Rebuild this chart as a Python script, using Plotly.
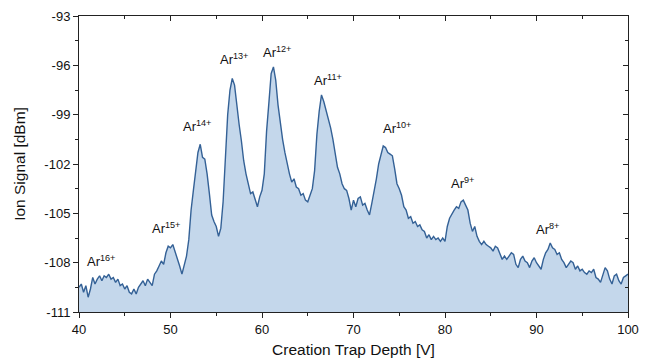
import numpy as np
import plotly.graph_objects as go

# Creation trap depth grid (V)
x_start, x_stop, x_step = 40.0, 100.0, 0.25
depth = np.round(np.arange(x_start, x_stop + x_step / 2, x_step), 2)

# Ion signal (dBm), 4 samples per volt
signal = [
    -109.5, -109.3, -109.8, -109.4,   # 40
    -110.1, -109.6, -108.9, -109.3,   # 41
    -109.0, -108.8, -109.1, -108.8,   # 42
    -108.9, -108.7, -109.0, -108.9,   # 43
    -109.2, -109.0, -109.4, -109.3,   # 44
    -109.6, -109.4, -109.8, -109.9,   # 45
    -109.6, -109.9, -109.5, -109.3,   # 46
    -109.1, -109.4, -109.0, -109.2,   # 47
    -109.4, -108.7, -108.5, -108.2,   # 48
    -107.9, -108.1, -107.4, -107.0,   # 49
    -107.1, -106.9, -107.3, -107.7,   # 50
    -108.2, -108.7, -108.2, -107.6,   # 51
    -106.6, -104.8, -103.6, -102.5,   # 52
    -101.3, -100.8, -101.6, -101.7,   # 53
    -102.6, -103.8, -105.1, -105.5,   # 54
    -105.8, -106.4, -105.9, -104.3,   # 55
    -101.8, -99.0, -97.5, -96.8,      # 56
    -97.2, -98.6, -99.6, -100.6,      # 57
    -101.8, -102.6, -103.3, -103.8,   # 58
    -103.7, -104.2, -104.6, -104.0,   # 59
    -103.6, -102.6, -100.0, -98.3,    # 60
    -96.5, -96.1, -96.9, -98.4,       # 61
    -99.5, -100.5, -101.3, -102.0,    # 62
    -102.6, -103.1, -102.9, -103.4,   # 63
    -103.5, -103.9, -103.8, -104.2,   # 64
    -104.3, -103.9, -103.5, -102.4,   # 65
    -100.2, -98.8, -97.8, -98.2,      # 66
    -98.7, -99.3, -99.8, -100.5,      # 67
    -101.4, -102.2, -102.6, -103.2,   # 68
    -103.5, -103.6, -104.1, -104.8,   # 69
    -104.2, -104.6, -104.1, -104.0,   # 70
    -104.5, -104.4, -104.8, -105.1,   # 71
    -104.4, -103.7, -102.9, -102.0,   # 72
    -101.4, -100.9, -101.0, -101.3,   # 73
    -101.4, -101.5, -102.3, -103.2,   # 74
    -103.5, -103.9, -104.6, -104.8,   # 75
    -105.3, -105.2, -105.6, -105.5,   # 76
    -105.8, -105.7, -106.0, -106.1,   # 77
    -106.5, -106.3, -106.6, -106.4,   # 78
    -106.6, -106.5, -106.7, -106.5,   # 79
    -106.7, -105.8, -105.3, -105.0,   # 80
    -104.8, -104.6, -104.7, -104.3,   # 81
    -104.2, -104.5, -104.8, -105.6,   # 82
    -106.1, -105.8, -106.4, -106.7,   # 83
    -106.9, -106.7, -106.9, -107.0,   # 84
    -107.1, -107.3, -107.0, -107.1,   # 85
    -107.5, -107.8, -107.6, -107.8,   # 86
    -107.6, -107.4, -107.5, -108.1,   # 87
    -108.3, -107.8, -107.6, -107.9,   # 88
    -108.0, -108.3, -107.9, -107.7,   # 89
    -108.0, -108.2, -108.4, -107.8,   # 90
    -107.4, -107.2, -106.8, -107.1,   # 91
    -107.2, -107.5, -107.4, -107.8,   # 92
    -108.0, -108.3, -108.1, -107.9,   # 93
    -108.0, -108.4, -108.2, -108.5,   # 94
    -108.4, -108.6, -108.7, -108.5,   # 95
    -108.6, -108.4, -108.9, -109.0,   # 96
    -109.2, -108.8, -108.3, -108.5,   # 97
    -109.0, -109.3, -108.8, -108.7,   # 98
    -109.1, -109.3, -108.9, -108.8,   # 99
    -108.7,                           # 100
]

# Peak labels
peak_labels = ["Ar<sup>16+</sup>", "Ar<sup>15+</sup>", "Ar<sup>14+</sup>", "Ar<sup>13+</sup>",
               "Ar<sup>12+</sup>", "Ar<sup>11+</sup>", "Ar<sup>10+</sup>", "Ar<sup>9+</sup>",
               "Ar<sup>8+</sup>"]
label_x = [42.4, 49.5, 52.9, 56.9, 61.6, 67.2, 74.75, 81.9, 91.25]
label_y = [-107.9, -105.9, -99.7, -95.6, -95.2, -96.9, -99.8, -103.15, -105.95]

y_min, y_max = -111, -93
y_ticks = [-111, -108, -105, -102, -99, -96, -93]
y_tick_text = ["-111", "-108", "-105", "-102", "-99", "-96", "-93"]
x_ticks = [40, 50, 60, 70, 80, 90, 100]
x_tick_text = ["40", "50", "60", "70", "80", "90", "100"]

line_color = "#346196"
fill_color = "#C4D7EB"
font_family = "Liberation Sans, Arial, sans-serif"

fig = go.Figure()
fig.add_trace(go.Scatter(x=depth, y=[y_min] * len(depth), mode="lines",
                         line=dict(width=0), hoverinfo="skip", showlegend=False))
fig.add_trace(go.Scatter(x=depth, y=signal, mode="lines", fill="tonexty",
                         fillcolor=fill_color, line=dict(color=line_color, width=1.4),
                         showlegend=False))
# invisible copy on mirrored axes so they are drawn
fig.add_trace(go.Scatter(x=depth, y=signal, mode="lines", xaxis="x2", yaxis="y2",
                         line=dict(width=0), opacity=0, hoverinfo="skip", showlegend=False))

for t, lx, ly in zip(peak_labels, label_x, label_y):
    fig.add_annotation(x=lx, y=ly, text=t, showarrow=False,
                       font=dict(size=13, color="#111", family=font_family))

axis_common = dict(showgrid=False, zeroline=False, showline=True, linecolor="#222",
                   linewidth=1, tickcolor="#222", ticklen=5, tickwidth=1)

fig.update_layout(
    width=656, height=364,
    margin=dict(l=79, r=28, t=9, b=52),
    plot_bgcolor="white", paper_bgcolor="white",
    font=dict(family=font_family, size=13, color="#111"),
    xaxis=dict(range=[x_start, x_stop], tickvals=x_ticks, ticktext=x_tick_text, ticks="outside",
               minor=dict(dtick=5, tick0=45, ticks="outside", ticklen=3, tickcolor="#222"),
               title=dict(text="Creation Trap Depth [V]", font=dict(size=15.5), standoff=8),
               tickfont=dict(size=13), **axis_common),
    yaxis=dict(range=[y_min, y_max], tickvals=y_ticks, ticktext=y_tick_text, ticks="outside",
               minor=dict(dtick=1.5, tick0=-109.5, ticks="outside", ticklen=3, tickcolor="#222"),
               title=dict(text="Ion Signal [dBm]", font=dict(size=15.5), standoff=14),
               tickfont=dict(size=13), **axis_common),
    xaxis2=dict(range=[x_start, x_stop], overlaying="x", side="top", anchor="y",
                tickvals=x_ticks, ticks="inside", showticklabels=False,
                minor=dict(dtick=5, tick0=45, ticks="inside", ticklen=3, tickcolor="#222"),
                **axis_common),
    yaxis2=dict(range=[y_min, y_max], overlaying="y", side="right", anchor="x",
                tickvals=y_ticks, ticks="inside", showticklabels=False,
                minor=dict(dtick=1.5, tick0=-109.5, ticks="inside", ticklen=3, tickcolor="#222"),
                **axis_common),
)

fig.write_html("out.html")
